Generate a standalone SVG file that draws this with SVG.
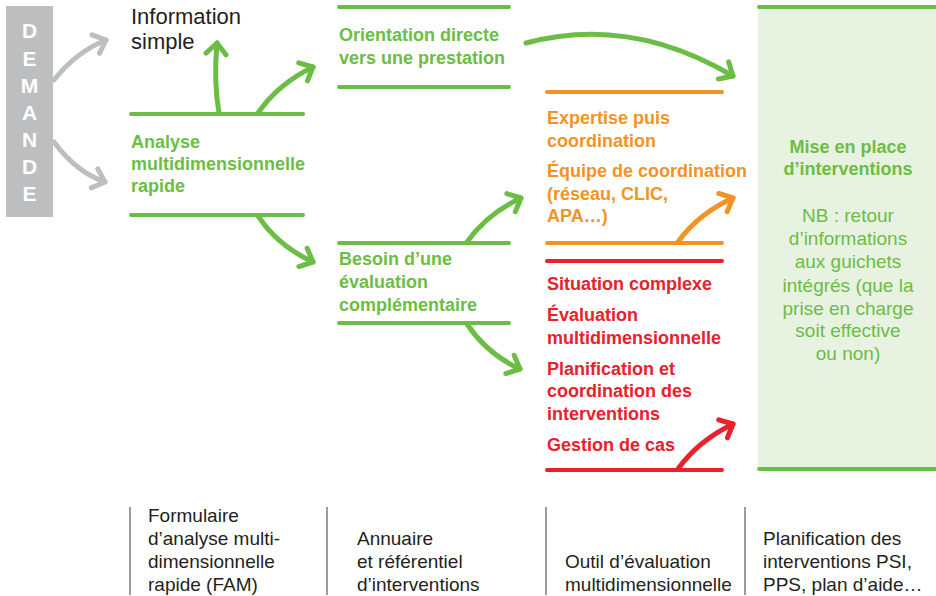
<svg xmlns="http://www.w3.org/2000/svg" width="936" height="596" viewBox="0 0 936 596">
<defs>
<style>
.b{font-family:"Liberation Sans",Arial,sans-serif;font-weight:bold;font-size:18px}
.r{font-family:"Liberation Sans",Arial,sans-serif;font-size:19px}
.big{font-size:22px}
.g{fill:#6cbd45}.o{fill:#f39325}.rd{fill:#e8212b}.k{fill:#231f20}
.ln{stroke-width:4;stroke-linecap:round;fill:none}
.ar{stroke-width:5;stroke-linecap:round;fill:none}
.sg{stroke:#6cbd45}.so{stroke:#f39325}.sr{stroke:#e8212b}.sy{stroke:#bcbec0}
.sep{stroke:#58595b;stroke-width:1.2}
.dm{font-family:"Liberation Sans",Arial,sans-serif;font-weight:bold;font-size:21px;fill:#fff;text-anchor:middle}
</style>
<marker id="mg" markerUnits="userSpaceOnUse" viewBox="-14 -13 18 26" markerWidth="18" markerHeight="26" refX="0" refY="0" orient="auto"><path d="M-11,-10 L0,0 L-11,10" fill="none" stroke="#6cbd45" stroke-width="5" stroke-linecap="round" stroke-linejoin="round"/></marker>
<marker id="mo" markerUnits="userSpaceOnUse" viewBox="-14 -13 18 26" markerWidth="18" markerHeight="26" refX="0" refY="0" orient="auto"><path d="M-11,-10 L0,0 L-11,10" fill="none" stroke="#f39325" stroke-width="5" stroke-linecap="round" stroke-linejoin="round"/></marker>
<marker id="mr" markerUnits="userSpaceOnUse" viewBox="-14 -13 18 26" markerWidth="18" markerHeight="26" refX="0" refY="0" orient="auto"><path d="M-11,-10 L0,0 L-11,10" fill="none" stroke="#e8212b" stroke-width="5" stroke-linecap="round" stroke-linejoin="round"/></marker>
<marker id="my" markerUnits="userSpaceOnUse" viewBox="-14 -13 18 26" markerWidth="18" markerHeight="26" refX="0" refY="0" orient="auto"><path d="M-11,-10 L0,0 L-11,10" fill="none" stroke="#bcbec0" stroke-width="5" stroke-linecap="round" stroke-linejoin="round"/></marker>
</defs>
<rect width="936" height="596" fill="#fff"/>

<g id="demande">
<rect x="6" y="6" width="47" height="211" fill="#bcbec0"/>
<text class="dm" x="29.5" y="38">D</text>
<text class="dm" x="29.5" y="66">E</text>
<text class="dm" x="29.5" y="93">M</text>
<text class="dm" x="29.5" y="120">A</text>
<text class="dm" x="29.5" y="147">N</text>
<text class="dm" x="29.5" y="174">D</text>
<text class="dm" x="29.5" y="201">E</text>
</g>

<g id="info-simple">
<text class="r big k" x="131" y="24">Information</text>
<text class="r big k" x="131" y="49">simple</text>
</g>

<g id="analyse">
<line class="ln sg" x1="131" y1="114" x2="303" y2="114"/>
<line class="ln sg" x1="131" y1="215" x2="303" y2="215"/>
<text class="b g" x="131" y="148">Analyse</text>
<text class="b g" x="131" y="170">multidimensionnelle</text>
<text class="b g" x="131" y="192">rapide</text>
</g>

<g id="orientation">
<line class="ln sg" x1="339" y1="7" x2="509" y2="7"/>
<line class="ln sg" x1="339" y1="87" x2="509" y2="87"/>
<text class="b g" x="339" y="41">Orientation directe</text>
<text class="b g" x="339" y="64">vers une prestation</text>
</g>

<g id="besoin">
<line class="ln sg" x1="339" y1="243" x2="509" y2="243"/>
<line class="ln sg" x1="339" y1="323" x2="509" y2="323"/>
<text class="b g" x="339" y="265">Besoin d’une</text>
<text class="b g" x="339" y="288">évaluation</text>
<text class="b g" x="339" y="311">complémentaire</text>
</g>

<g id="expertise">
<line class="ln so" x1="547" y1="92" x2="722" y2="92"/>
<line class="ln so" x1="547" y1="243" x2="722" y2="243"/>
<text class="b o" x="547" y="124">Expertise puis</text>
<text class="b o" x="547" y="147">coordination</text>
<text class="b o" x="547" y="177">Équipe de coordination</text>
<text class="b o" x="547" y="200">(réseau, CLIC,</text>
<text class="b o" x="547" y="222">APA…)</text>
</g>

<g id="situation">
<line class="ln sr" x1="547" y1="261" x2="722" y2="261"/>
<line class="ln sr" x1="547" y1="470" x2="722" y2="470"/>
<text class="b rd" x="547" y="290">Situation complexe</text>
<text class="b rd" x="547" y="321">Évaluation</text>
<text class="b rd" x="547" y="344">multidimensionnelle</text>
<text class="b rd" x="547" y="375">Planification et</text>
<text class="b rd" x="547" y="397">coordination des</text>
<text class="b rd" x="547" y="420">interventions</text>
<text class="b rd" x="547" y="451">Gestion de cas</text>
</g>

<g id="mise-en-place">
<rect x="758" y="7" width="178" height="463" fill="#e7f2e1"/>
<line class="ln sg" x1="759" y1="7" x2="936" y2="7"/>
<line class="ln sg" x1="759" y1="469" x2="936" y2="469"/>
<g text-anchor="middle">
<text class="b g" x="848" y="153">Mise en place</text>
<text class="b g" x="848" y="175">d’interventions</text>
<text class="r g" x="848" y="222">NB : retour</text>
<text class="r g" x="848" y="245">d’informations</text>
<text class="r g" x="848" y="268">aux guichets</text>
<text class="r g" x="848" y="292">intégrés (que la</text>
<text class="r g" x="848" y="315">prise en charge</text>
<text class="r g" x="848" y="337">soit effective</text>
<text class="r g" x="848" y="360">ou non)</text>
</g>
</g>

<g id="connectors">
<path class="ar sy" d="M54,80 Q76,52 106,40" marker-end="url(#my)"/>
<path class="ar sy" d="M54,142 Q76,172 105,182" marker-end="url(#my)"/>
<path class="ar sg" d="M219,113 C215,90 215,65 217,43" marker-end="url(#mg)"/>
<path class="ar sg" d="M258,113 Q278,84 313,67" marker-end="url(#mg)"/>
<path class="ar sg" d="M258,216 Q278,246 313,262" marker-end="url(#mg)"/>
<path class="ar sg" d="M526,43 Q630,15 733,76" marker-end="url(#mg)"/>
<path class="ar sg" d="M467,242 Q487,214 521,198" marker-end="url(#mg)"/>
<path class="ar sg" d="M467,324 Q487,354 520,369" marker-end="url(#mg)"/>
<path class="ar so" d="M678,242 Q698,214 733,198" marker-end="url(#mo)"/>
<path class="ar sr" d="M678,469 Q698,441 733,424" marker-end="url(#mr)"/>
</g>

<g id="tools">
<line class="sep" x1="130" y1="507" x2="130" y2="595"/>
<line class="sep" x1="327" y1="507" x2="327" y2="595"/>
<line class="sep" x1="546" y1="507" x2="546" y2="595"/>
<line class="sep" x1="745" y1="507" x2="745" y2="595"/>
<text class="r k" x="148" y="522">Formulaire</text>
<text class="r k" x="148" y="545">d’analyse multi-</text>
<text class="r k" x="148" y="568">dimensionnelle</text>
<text class="r k" x="148" y="591">rapide (FAM)</text>
<text class="r k" x="357" y="545">Annuaire</text>
<text class="r k" x="357" y="568">et référentiel</text>
<text class="r k" x="357" y="591">d’interventions</text>
<text class="r k" x="565" y="568">Outil d’évaluation</text>
<text class="r k" x="565" y="591">multidimensionnelle</text>
<text class="r k" x="763" y="545">Planification des</text>
<text class="r k" x="763" y="568">interventions PSI,</text>
<text class="r k" x="763" y="591">PPS, plan d’aide…</text>
</g>
</svg>
